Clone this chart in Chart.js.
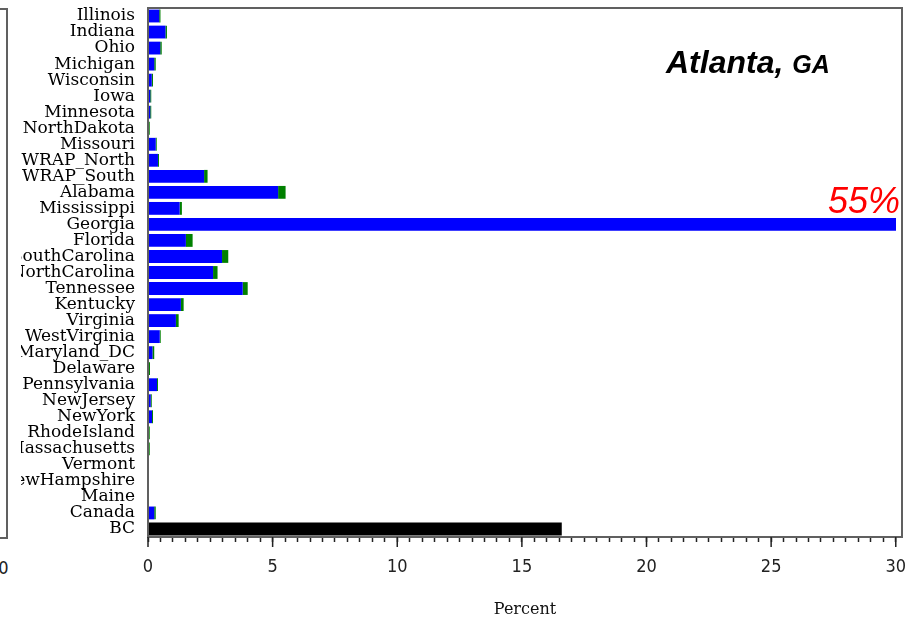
<!DOCTYPE html>
<html>
<head>
<meta charset="utf-8">
<script src="https://cdn.jsdelivr.net/npm/chart.js@4"></script>
<style>
  html, body { margin: 0; padding: 0; background: #fff; }
  body { width: 923px; height: 620px; position: relative; overflow: hidden; }
  #wrap { position: absolute; left: 21px; top: 0; width: 902px; height: 620px; }
  #leftPanel { position: absolute; left: -60px; top: 8px; width: 64px; height: 527px; border: 2px solid #606060; }
  #leftTick { position: absolute; left: -12px; top: 557px; font: 18px 'Liberation Sans Narrow', 'DejaVu Sans Condensed', sans-serif; color: #222; }
  #city { position: absolute; left: 666px; top: 46px; font: italic bold 32px 'Liberation Sans', Arial, sans-serif; line-height: 1; white-space: nowrap; }
  #city span { font-size: 25px; }
  #share { position: absolute; right: 23px; top: 183px; font: italic 36px 'Liberation Sans', Arial, sans-serif; color: #ff0000; line-height: 1; }
</style>
</head>
<body>
<div id="leftPanel"></div>
<div id="leftTick">30</div>
<div id="wrap"><canvas id="sourceChart"></canvas></div>
<div id="city">Atlanta, <span>GA</span></div>
<div id="share">55%</div>
<script>
const regions = ['Illinois', 'Indiana', 'Ohio', 'Michigan', 'Wisconsin', 'Iowa', 'Minnesota', 'NorthDakota',
  'Missouri', 'WRAP_North', 'WRAP_South', 'Alabama', 'Mississippi', 'Georgia', 'Florida', 'SouthCarolina',
  'NorthCarolina', 'Tennessee', 'Kentucky', 'Virginia', 'WestVirginia', 'Maryland_DC', 'Delaware',
  'Pennsylvania', 'NewJersey', 'NewYork', 'RhodeIsland', 'Massachusetts', 'Vermont', 'NewHampshire',
  'Maine', 'Canada', 'BC'];

// percent contributions, blue part and green part of each bar
const bluePart = [0.45, 0.70, 0.49, 0.25, 0.15, 0.09, 0.09, 0.01, 0.31, 0.40, 2.25, 5.22, 1.27, 55, 1.52, 2.97,
  2.61, 3.80, 1.32, 1.12, 0.47, 0.18, 0.01, 0.36, 0.11, 0.16, 0, 0, 0, 0, 0, 0.25, null];
const greenPart = [0.05, 0.06, 0.06, 0.06, 0.05, 0.04, 0.04, 0.06, 0.04, 0.04, 0.14, 0.30, 0.09, 0, 0.27, 0.25,
  0.18, 0.20, 0.11, 0.11, 0.04, 0.07, 0.07, 0.04, 0.04, 0.04, 0.07, 0.07, 0, 0, 0, 0.06, null];
const bcPart = [null, null, null, null, null, null, null, null, null, null, null, null, null, null, null, null,
  null, null, null, null, null, null, null, null, null, null, null, null, null, null, null, null, 16.6];

const xMax = 30;
const xTickFont = { family: "'Liberation Sans Narrow', 'DejaVu Sans Condensed', sans-serif", size: 18 };

// box round the plot and longer marks at every 5 percent
const framePlugin = {
  id: 'frame',
  afterDraw(chart) {
    const { ctx, chartArea: a } = chart;
    const x = chart.scales.x;
    ctx.save();
    ctx.strokeStyle = '#606060';
    ctx.lineWidth = 2;
    ctx.strokeRect(a.left, a.top, a.right - a.left, a.bottom - a.top);
    ctx.strokeStyle = '#222';
    ctx.lineWidth = 1.5;
    x.ticks.forEach(t => {
      if (t.value % 5 === 0) {
        const px = x.getPixelForValue(t.value);
        ctx.beginPath();
        ctx.moveTo(px, a.bottom);
        ctx.lineTo(px, a.bottom + 10);
        ctx.stroke();
      }
    });
    ctx.restore();
  }
};

const ctx = document.getElementById('sourceChart').getContext('2d');
const sourceChart = new Chart(ctx, {
  type: 'bar',
  data: {
    labels: regions,
    datasets: [
      { label: 'part 1', data: bluePart, backgroundColor: '#0000ff', clip: { left: 0, top: 0, right: -6, bottom: 0 } },
      { label: 'part 2', data: greenPart, backgroundColor: '#008000' },
      { label: 'BC', data: bcPart, backgroundColor: '#000000' }
    ]
  },
  options: {
    indexAxis: 'y',
    responsive: true,
    maintainAspectRatio: false,
    animation: false,
    layout: { padding: { top: 8, right: 21, bottom: 0, left: 0 } },
    datasets: { bar: { barPercentage: 0.8, categoryPercentage: 1 } },
    plugins: { legend: { display: false }, tooltip: { enabled: false } },
    scales: {
      x: {
        stacked: true,
        min: 0,
        max: 30.25,
        afterBuildTicks: s => {
          s.ticks.forEach(t => { if (t.value > xMax) t.value = xMax; });
        },
        afterFit: s => { s.height = 83; s.paddingLeft = 0; s.paddingRight = 0; },
        ticks: {
          stepSize: 0.5,
          autoSkip: false,
          maxRotation: 0,
          minRotation: 0,
          padding: 15,
          color: '#222',
          font: xTickFont,
          callback: v => (v % 5 === 0 ? v : '')
        },
        grid: { drawOnChartArea: false, tickLength: 5, tickColor: '#222', tickWidth: 1.5 },
        border: { color: '#606060', width: 2 },
        title: {
          display: true,
          text: 'Percent',
          color: '#111',
          font: { family: "'DejaVu Serif', serif", size: 16 },
          padding: { top: 0, bottom: 1 }
        }
      },
      y: {
        stacked: true,
        afterFit: s => { s.width = 127; s.paddingTop = 0; s.paddingBottom = 0; },
        ticks: {
          autoSkip: false,
          padding: 13,
          color: '#000',
          font: { family: "'DejaVu Serif', serif", size: 17 }
        },
        grid: { display: false, drawTicks: false },
        border: { color: '#606060', width: 2 }
      }
    }
  },
  plugins: [framePlugin]
});
</script>
</body>
</html>
